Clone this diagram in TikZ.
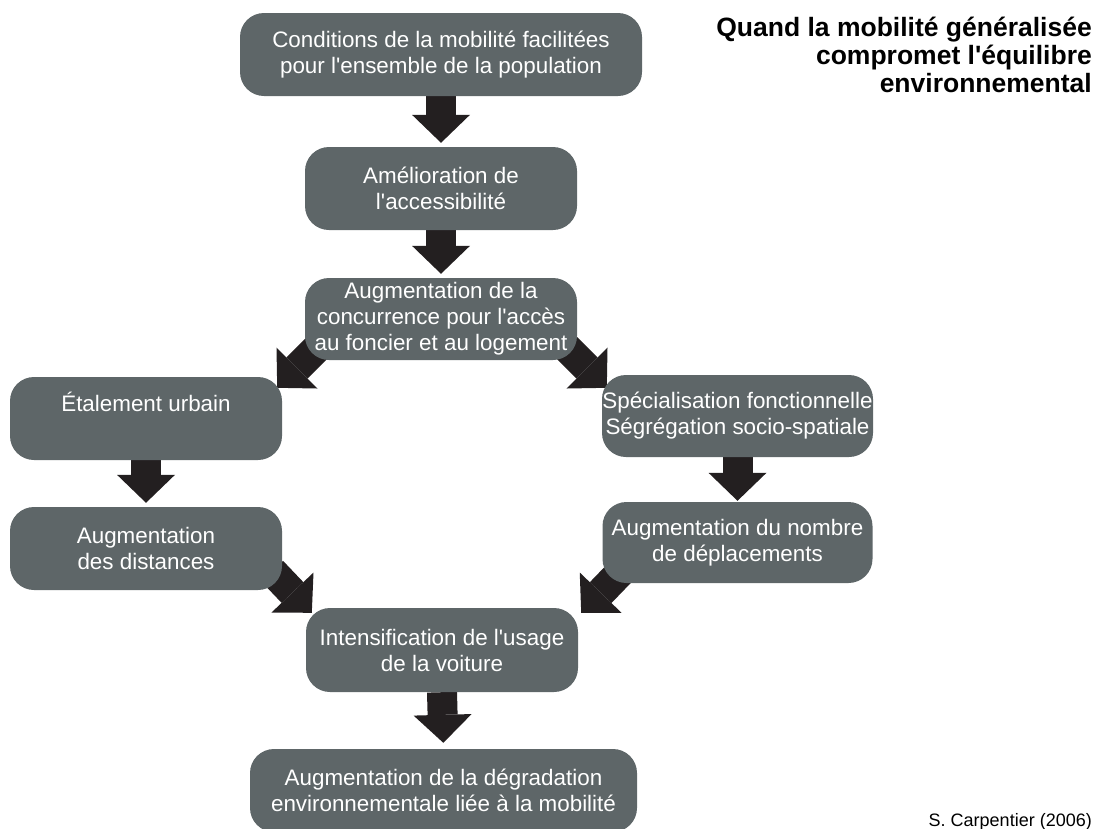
\documentclass[tikz,border=0pt]{standalone}
\usepackage{fontspec}
\setmainfont{Liberation Sans}
\usepackage{xcolor}
\usepackage{tikz}
\usetikzlibrary{positioning}
\usetikzlibrary{backgrounds}
\usetikzlibrary{arrows.meta}
\usetikzlibrary{calc}

\definecolor{boxgrey}{RGB}{94,102,104}
\definecolor{arrowblack}{RGB}{35,31,32}
\newcommand{\apos}{\textquotesingle}

\begin{document}
\begin{tikzpicture}[x=1pt, y=-1pt,
	etape/.style = {fill=boxgrey, text=white, rounded corners=24pt, inner sep=0pt,
		align=center, minimum width=272pt, minimum height=83pt,
		font=\fontsize{22.4}{26}\selectfont},
	fleche/.style = {draw=arrowblack, line width=30pt,
		-{Triangle[width=58pt,length=28pt,line width=0pt]}}]
\useasboundingbox (0,0) rectangle (1099,828);
\clip (0,0) rectangle (1099,828);

\node[etape, minimum width=402pt] (cond) at (441,54.5) {Conditions de la mobilité facilitées\\pour l\apos ensemble de la population};
\node[etape] (amel) at (441,188.5) {Amélioration de\\l\apos accessibilité};
\node[etape, minimum height=82pt] (conc) at (441,319) {Augmentation de la\\concurrence pour l\apos accès\\au foncier et au logement};
\node[etape] (etal) at (146,418.5) {Étalement urbain\\\strut};
\node[etape, minimum width=271pt, minimum height=82pt] (spec) at (737.5,416) {Spécialisation fonctionnelle\\Ségrégation socio-spatiale};
\node[etape] (dist) at (146,548.5) {Augmentation\\des distances};
\node[etape, minimum width=270pt, minimum height=81pt] (depl) at (737.5,542.5) {Augmentation du nombre\\de déplacements};
\node[etape, minimum height=84pt] (voit) at (442,650) {Intensification de l\apos usage\\de la voiture};
\node[etape, minimum width=387pt] (degr) at (443.5,790.5) {Augmentation de la dégradation\\environnementale liée à la mobilité};

\node[anchor=north east, inner sep=0pt, align=right, font=\bfseries\fontsize{26.5}{28}\selectfont] (titre) at (1092,17) {Quand la mobilité généralisée\\compromet l\apos équilibre\\environnemental};
\node[anchor=base east, inner sep=0pt, font=\fontsize{18}{20}\selectfont] (source) at (1092,826) {S. Carpentier (2006)};

% diagonal arrows, tails hidden behind the boxes
\coordinate (hg0) at ($(conc.south west)+(14,-14)$);
\coordinate (hg1) at ($(etal.north east)+(-5,11)$);
\coordinate (hd0) at ($(conc.south east)+(-12,-14)$);
\coordinate (hd1) at ($(spec.north west)+(5,13)$);
\coordinate (bg0) at ($(dist.south east)+(-10,-19)$);
\coordinate (bg1) at ($(voit.north west)+(6,5)$);
\coordinate (bd0) at ($(depl.south west)+(19,-12)$);
\coordinate (bd1) at ($(voit.north east)+(3,5)$);

\begin{scope}[on background layer]
\draw[fleche, shorten >=4pt] (cond.south) -- (amel.north);
\draw[fleche, shorten >=4pt] (amel.south) -- (conc.north);
\draw[fleche] (hg0) -- (hg1);
\draw[fleche] (hd0) -- (hd1);
\draw[fleche, shorten >=4pt] (etal.south) -- (dist.north);
\draw[fleche, shorten >=1pt] (spec.south) -- (depl.north);
\draw[fleche] (bg0) -- (bg1);
\draw[fleche] (bd0) -- (bd1);
\draw[fleche, shorten >=6pt] (voit.south) -- (degr.north);
\end{scope}
\end{tikzpicture}
\end{document}
